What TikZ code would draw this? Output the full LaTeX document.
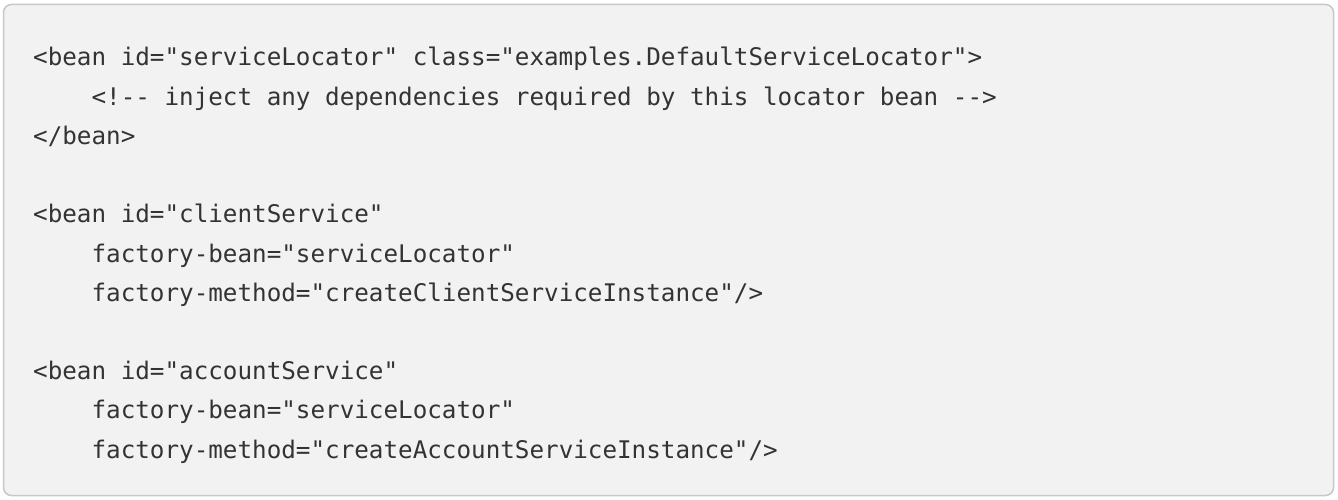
\documentclass[tikz,border=0pt]{standalone}
\usepackage{fontspec}
\newfontfamily\codefont{DejaVu Sans Mono}
\definecolor{codebg}{HTML}{F2F2F2}
\definecolor{codeborder}{HTML}{C8C8C8}
\definecolor{codetext}{HTML}{333333}
\tikzset{
  codeline/.style={anchor=base west, inner sep=0pt, text=codetext,
    font=\codefont\fontsize{24.25pt}{39.2pt}\selectfont},
  codebox/.style={fill=codebg, draw=codeborder, line width=1.5pt, rounded corners=8pt}
}
\begin{document}
\begin{tikzpicture}[x=1pt,y=-1pt]
\useasboundingbox (0,0) rectangle (1338,500);
\fill[white] (0,0) rectangle (1338,500);
\path[codebox] (3.5,4.5) rectangle (1333.5,495.5);
\def\ind{\hspace*{58.4pt}}
\node[codeline] (l1) at (33,66) {<bean id="serviceLocator" class="examples.DefaultServiceLocator">};
\node[codeline] (l2) at (33,105.2) {\ind<!-{}- inject any dependencies required by this locator bean -{}->};
\node[codeline] (l3) at (33,144.4) {</bean>};
\node[codeline] (l4) at (33,222.8) {<bean id="clientService"};
\node[codeline] (l5) at (33,262) {\ind factory-bean="serviceLocator"};
\node[codeline] (l6) at (33,301.2) {\ind factory-method="createClientServiceInstance"/>};
\node[codeline] (l7) at (33,379.6) {<bean id="accountService"};
\node[codeline] (l8) at (33,418.8) {\ind factory-bean="serviceLocator"};
\node[codeline] (l9) at (33,458) {\ind factory-method="createAccountServiceInstance"/>};
\end{tikzpicture}
\end{document}
